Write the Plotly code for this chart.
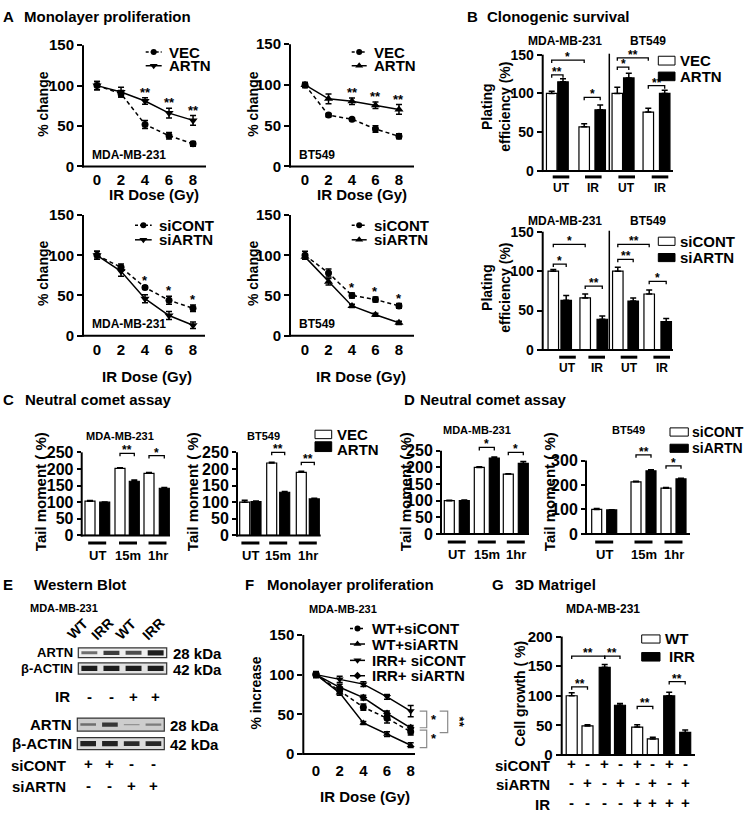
import plotly.graph_objects as go

W, H = 745, 819
FONT = "Liberation Sans"

# ------------------------------------------------------------------ DATA
dose = [0, 2, 4, 6, 8]

# A  Monolayer proliferation
a_mda_vec = [100, 90, 52, 38, 28]
a_mda_vec_err = [5, 4, 5, 4, 3]
a_mda_artn = [100, 92, 81, 66, 57]
a_mda_artn_err = [5, 6, 4, 6, 6]
a_mda_sig = ["", "", "**", "**", "**"]

a_bt_vec = [100, 63, 58, 46, 37]
a_bt_vec_err = [3, 2, 1, 4, 3]
a_bt_artn = [100, 83, 80, 75, 70]
a_bt_artn_err = [3, 6, 4, 4, 6]
a_bt_sig = ["", "", "**", "**", "**"]

a_mda_sicont = [100, 85, 60, 44, 34]
a_mda_sicont_err = [5, 4, 2, 5, 4]
a_mda_siartn = [100, 80, 46, 25, 13]
a_mda_siartn_err = [5, 6, 5, 5, 4]
a_mda_si_sig = ["", "", "*", "*", "*"]

a_bt_sicont = [100, 78, 50, 45, 37]
a_bt_sicont_err = [5, 5, 3, 3, 3]
a_bt_siartn = [98, 67, 37, 26, 16]
a_bt_siartn_err = [3, 4, 2, 2, 2]
a_bt_si_sig = ["", "", "*", "*", "*"]

# B  Clonogenic survival  (order: MDA UT, MDA IR, BT549 UT, BT549 IR)
b_cond = ["UT", "IR", "UT", "IR"]
b_vec = [100, 57, 100, 76]
b_vec_err = [3, 4, 8, 5]
b_artn = [115, 79, 120, 100]
b_artn_err = [4, 6, 6, 4]
b_top_sig = [(0, 1, 124, "**"), (0, 2, 143, "*"), (2, 3, 95, "*"),
             (4, 5, 134, "*"), (4, 6, 146, "**"), (6, 7, 110, "**")]
b_sicont = [100, 66, 100, 71]
b_sicont_err = [2, 5, 5, 5]
b_siartn = [63, 39, 62, 36]
b_siartn_err = [6, 4, 4, 4]
b_bot_sig = [(0, 1, 109, "*"), (0, 2, 134, "*"), (2, 3, 81, "**"),
             (4, 5, 115, "**"), (4, 6, 134, "**"), (6, 7, 87, "*")]

# C / D  Neutral comet assay
comet_time = ["UT", "15m", "1hr"]
c_mda_vec = [103, 202, 187]
c_mda_vec_err = [2, 2, 2]
c_mda_artn = [100, 163, 142]
c_mda_artn_err = [1, 4, 2]
c_mda_sig = [(2, 3, 247, "**"), (4, 5, 240, "*")]
c_bt_vec = [100, 218, 190]
c_bt_vec_err = [6, 2, 3]
c_bt_artn = [102, 130, 110]
c_bt_artn_err = [2, 2, 2]
c_bt_sig = [(2, 3, 250, "**"), (4, 5, 220, "**")]
d_mda_sicont = [100, 200, 180]
d_mda_sicont_err = [1, 2, 1]
d_mda_siartn = [100, 228, 212]
d_mda_siartn_err = [2, 3, 6]
d_mda_sig = [(2, 3, 260, "*"), (4, 5, 245, "*")]
d_bt_sicont = [100, 213, 187]
d_bt_sicont_err = [4, 2, 3]
d_bt_siartn = [98, 258, 225]
d_bt_siartn_err = [1, 4, 3]
d_bt_sig = [(2, 3, 323, "**"), (4, 5, 278, "*")]

# E  Western blot (relative band intensities per lane)
blot_lanes = ["WT", "IRR", "WT", "IRR"]
blot1_artn = [0.45, 0.75, 0.65, 0.95]
blot1_actin = [0.95, 0.95, 0.95, 0.95]
blot1_ir = ["-", "-", "+", "+"]
blot2_artn = [0.35, 0.75, 0.08, 0.25]
blot2_actin = [0.9, 0.9, 0.85, 0.88]
blot2_sicont = ["+", "+", "-", "-"]
blot2_siartn = ["-", "-", "+", "+"]

# F  Monolayer proliferation
f_wt_sicont = [100, 80, 59, 45, 28]
f_wt_sicont_err = [3, 4, 4, 6, 4]
f_wt_siartn = [100, 77, 39, 25, 11]
f_wt_siartn_err = [3, 3, 2, 3, 3]
f_irr_sicont = [100, 94, 88, 72, 54]
f_irr_sicont_err = [4, 4, 3, 3, 7]
f_irr_siartn = [100, 84, 71, 51, 33]
f_irr_siartn_err = [3, 4, 3, 3, 3]

# G  3D Matrigel
g_cell = ["WT", "WT", "IRR", "IRR", "WT", "WT", "IRR", "IRR"]
g_vals = [100, 49, 148, 84, 47, 27, 100, 38]
g_err = [5, 2, 5, 3, 4, 3, 6, 4]
g_sicont = ["+", "-", "+", "-", "+", "-", "+", "-"]
g_siartn = ["-", "+", "-", "+", "-", "+", "-", "+"]
g_ir = ["-", "-", "-", "-", "+", "+", "+", "+"]
g_sig = [(0, 1, 115, "**"), (0, 2, 167, "**"), (2, 3, 167, "**"),
         (4, 5, 82, "**"), (6, 7, 124, "**")]

# ------------------------------------------------------------------ helpers
fig = go.Figure()
shapes, anns = [], []
lay = {}
GEOM = {}


def xr(n):
    return "x" if n == 1 else f"x{n}"


def yr(n):
    return "y" if n == 1 else f"y{n}"


def P(px, py):
    return px / W, 1 - py / H


def bfont(size, color="black", family=FONT):
    return dict(family=family, size=size, color=color, weight="bold")


def txt(px, py, text, size=15, xanchor="center", yanchor="middle", angle=0, color="black"):
    x, y = P(px, py)
    anns.append(dict(x=x, y=y, xref="paper", yref="paper", text=text, showarrow=False,
                     xanchor=xanchor, yanchor=yanchor, textangle=angle, font=bfont(size, color)))


def pline(x0, y0, x1, y1, width=2, color="black"):
    a, b = P(x0, y0)
    c, d = P(x1, y1)
    shapes.append(dict(type="line", xref="paper", yref="paper", x0=a, y0=b, x1=c, y1=d,
                       line=dict(color=color, width=width)))


def prect(x0, y0, x1, y1, fill, lw=1, lc="black"):
    a, b = P(x0, y1)
    c, d = P(x1, y0)
    shapes.append(dict(type="rect", xref="paper", yref="paper", x0=a, y0=b, x1=c, y1=d,
                       fillcolor=fill, line=dict(color=lc, width=lw), layer="below"))


def axes(pl, pr, pt, pb, xrng, yrng, ext_r=0, ext_t=0, yticks=(), ysize=15,
         xticks=(), xsize=15, xstand=3, lines=True, ticklen=5, yfamily=FONT):
    n = len(GEOM) + 1
    sx = (xrng[1] - xrng[0]) / (pr - pl)
    sy = (yrng[1] - yrng[0]) / (pb - pt)
    xa = dict(domain=[pl / W, (pr + ext_r) / W], range=[xrng[0], xrng[1] + ext_r * sx],
              anchor=yr(n), showline=False, showgrid=False, zeroline=False)
    ya = dict(domain=[1 - pb / H, 1 - (pt - ext_t) / H], range=[yrng[0], yrng[1] + ext_t * sy],
              anchor=xr(n), showline=False, showgrid=False, zeroline=False)
    if len(xticks):
        xa.update(tickmode="array", tickvals=list(xticks), ticktext=[str(v) for v in xticks],
                  ticks="", ticklabelstandoff=xstand, tickfont=bfont(xsize))
    else:
        xa.update(showticklabels=False, ticks="")
    if len(yticks):
        ya.update(tickmode="array", tickvals=list(yticks), ticks="outside", ticklen=ticklen,
                  tickwidth=2, tickcolor="black", tickfont=bfont(ysize, family=yfamily))
    else:
        ya.update(showticklabels=False, ticks="")
    key = "" if n == 1 else str(n)
    lay["xaxis" + key] = xa
    lay["yaxis" + key] = ya
    if lines:
        pline(pl, pb + 1, pl, pt, 2)
        pline(pl - 1, pb, pr, pb, 2)
    GEOM[n] = dict(pl=pl, pb=pb, sx=sx, sy=sy, x0=xrng[0], y0=yrng[0])
    return n


def series(n, x, y, err, dash, symbol, msize=7):
    fig.add_trace(go.Scatter(x=x, y=y, xaxis=xr(n), yaxis=yr(n), mode="lines+markers",
                             line=dict(color="black", width=1.5, dash=dash),
                             marker=dict(symbol=symbol, size=msize, color="black"),
                             error_y=dict(type="data", array=err, color="black", thickness=1.5, width=3),
                             showlegend=False, cliponaxis=False))


def star(n, x, y, text, size=13):
    anns.append(dict(x=x, y=y, xref=xr(n), yref=yr(n), text=text, showarrow=False,
                     xanchor="center", yanchor="bottom", yshift=-5, font=bfont(size)))


def bars(n, xs, vals, errs, fill, width=10):
    fig.add_trace(go.Bar(x=xs, y=vals, width=width, xaxis=xr(n), yaxis=yr(n),
                         marker=dict(color=fill, line=dict(color="black", width=1.2)),
                         error_y=dict(type="data", array=errs, arrayminus=[0] * len(errs),
                                      symmetric=False, color="black", thickness=1.5, width=3),
                         showlegend=False))


def bracket(n, xa, xb, y, text, size=12, tick=3):
    h = tick * GEOM[n]["sy"]
    shapes.append(dict(type="path", xref=xr(n), yref=yr(n),
                       path=f"M {xa},{y - h} L {xa},{y} L {xb},{y} L {xb},{y - h}",
                       line=dict(color="black", width=1.3)))
    anns.append(dict(x=(xa + xb) / 2, y=y, xref=xr(n), yref=yr(n), text=text, showarrow=False,
                     xanchor="center", yanchor="bottom", yshift=-6, font=bfont(size)))


def overlay_line_legend(n, x0, x1, y, dash, symbol, label, msize=7, size=15):
    fig.add_trace(go.Scatter(x=[x0, x1], y=[y, y], xaxis=xr(n), yaxis=yr(n), mode="lines",
                             line=dict(color="black", width=1.5, dash=dash), showlegend=False))
    fig.add_trace(go.Scatter(x=[(x0 + x1) / 2], y=[y], xaxis=xr(n), yaxis=yr(n), mode="markers",
                             marker=dict(symbol=symbol, size=msize, color="black"), showlegend=False))
    txt(x1 + 5, y, label, size=size, xanchor="left")


def bar_legend(x0, x1, y0, y1, fill, label, tx, size=15, ty=None):
    prect(x0, y0, x1, y1, fill, lw=1, lc="black")
    txt(tx, (y0 + y1) / 2 if ty is None else ty, label, size=size, xanchor="left")


def px_of(n, x):
    g = GEOM[n]
    return g["pl"] + (x - g["x0"]) / g["sx"]


def group_lines(n, centers, half, py, labels, ly, size=12):
    for c, lab in zip(centers, labels):
        pline(px_of(n, c) - half, py, px_of(n, c) + half, py, 3)
        txt(px_of(n, c), ly, lab, size=size)


# overlay axis in pixel units (for legend samples)
OV = axes(0, W, 0, H, (0, W), (H, 0), lines=False)

# ------------------------------------------------------------------ panel A
txt(1, 8, "A", 15, xanchor="left")
txt(22, 8, "Monolayer proliferation", 15, xanchor="left")

A_specs = [
    (83, 206, 37, 161, (-1.17, 9.08), a_mda_vec, a_mda_vec_err, a_mda_artn, a_mda_artn_err, a_mda_sig,
     "triangle-down", "MDA-MB-231", 154, 189.3, 43, 97, ("VEC", "ARTN"), 145.7, 161.7, 44, 58),
    (290, 414, 36, 161, (-1.28, 9.28), a_bt_vec, a_bt_vec_err, a_bt_artn, a_bt_artn_err, a_bt_sig,
     "triangle-up", "BT549", 362, 189.3, 253, 97, ("VEC", "ARTN"), 351.7, 366.7, 44, 58),
    (83, 205, 210.7, 334, (-1.17, 9.0), a_mda_sicont, a_mda_sicont_err, a_mda_siartn, a_mda_siartn_err,
     a_mda_si_sig, "triangle-down", "MDA-MB-231", 147, 375.7, 43, 270, ("siCONT", "siARTN"), 135, 151.7, 221, 236),
    (290, 414, 210.7, 334, (-1.28, 9.28), a_bt_sicont, a_bt_sicont_err, a_bt_siartn, a_bt_siartn_err,
     a_bt_si_sig, "triangle-up", "BT549", 361, 375.7, 253, 270, ("siCONT", "siARTN"), 351.7, 366.7, 221, 236),
]
for (pl, pr, pt, pb, xrng, c1, e1, c2, e2, sig, sym2, cell, lx, ly, yx, yy, legs, gx0, gx1, gy1, gy2) in A_specs:
    n = axes(pl, pr, pt, pb, xrng, (0, 150), yticks=[0, 50, 100, 150], ysize=15,
             xticks=dose, xsize=15, xstand=3)
    series(n, dose, c1, e1, "4px,3px", "circle", 7)
    series(n, dose, c2, e2, "solid", sym2, 8)
    for i, s in enumerate(sig):
        if s:
            top = max(c1[i] + e1[i], c2[i] + e2[i])
            star(n, dose[i], top + 1, s)
    txt(pl + 7, pb - 12, cell, 12, xanchor="left")
    txt(lx, ly, "IR Dose (Gy)", 15)
    txt(yx, yy, "% change", 14, angle=-90)
    overlay_line_legend(OV, gx0, gx1, gy1, "3px,2px", "circle", legs[0], 6)
    overlay_line_legend(OV, gx0, gx1, gy2, "solid", sym2, legs[1], 7)

# ------------------------------------------------------------------ panel B
txt(465, 8, "B", 15, xanchor="left")
txt(485, 8, "Clonogenic survival", 15, xanchor="left")

b_top_pos = [9, 20.3, 41.5, 57.5, 74.6, 86.1, 105.6, 122]
b_bot_pos = [10.6, 23.5, 42.5, 59.6, 75.1, 90.5, 106.5, 123.5]
B_specs = [
    (46.7, 165.7, b_vec, b_vec_err, b_artn, b_artn_err, b_top_sig, b_top_pos,
     [18.3, 50.6, 84, 117.3], 171.7, 183, 33, 100, ("VEC", "ARTN"), (48.3, 57.3, 64.5, 73.3)),
    (227.7, 348.7, b_sicont, b_sicont_err, b_siartn, b_siartn_err, b_bot_sig, b_bot_pos,
     [24.8, 54, 86.3, 119], 356, 366.7, 216.7, 285, ("siCONT", "siARTN"), (233.3, 241.7, 250, 258.3)),
]
for (pt, pb, v1, e1, v2, e2, sig, pos, gl, gly, glab, ty, yy, legs, lgy) in B_specs:
    n = axes(542.7, 673, pt, pb, (0, 130.3), (0, 150), ext_t=4, yticks=[0, 50, 100, 150], ysize=14)
    bars(n, pos[0::2], v1, e1, "white", 10.5)
    bars(n, pos[1::2], v2, e2, "black", 10.5)
    for (i, j, y, s) in sig:
        bracket(n, pos[i], pos[j], y, s)
    pline(609.3, pt - 1, 609.3, pb, 1.5)
    group_lines(n, gl, 8.3, gly, b_cond, glab, 12)
    txt(565, ty, "MDA-MB-231", 12)
    txt(648, ty, "BT549", 12)
    txt(496, yy, "Plating<br>efficiency (%)", 14, angle=-90)
    bar_legend(658.3, 675, lgy[0], lgy[1], "white", legs[0], 678)
    bar_legend(658.3, 675, lgy[2], lgy[3], "black", legs[1], 678)

# ------------------------------------------------------------------ panels C & D
txt(1, 399, "C", 15, xanchor="left")
txt(23, 399, "Neutral comet assay", 15, xanchor="left")
txt(401.7, 399, "D", 15, xanchor="left")
txt(418.3, 399, "Neutral comet assay", 15, xanchor="left")

NARROW = "Liberation Sans Narrow, Arial Narrow, Liberation Sans"
CD_specs = [
    (81.7, 170, 453.3, 538.3, 250, [0, 50, 100, 150, 200, 250], c_mda_vec, c_mda_vec_err, c_mda_artn,
     c_mda_artn_err, c_mda_sig, [8.3, 23, 38.3, 52.6, 67.3, 82.6], [15.5, 46.3, 75.8], 546, 558.3,
     "MDA-MB-231", 120, 436.7, 40, 16, FONT),
    (237, 320.7, 453.3, 538.3, 250, [0, 50, 100, 150, 200, 250], c_bt_vec, c_bt_vec_err, c_bt_artn,
     c_bt_artn_err, c_bt_sig, [7.7, 19, 34.7, 47.7, 64.3, 77.3], [13.4, 41.2, 70.8], 546, 558.3,
     "BT549", 263, 436.7, 192, 16, FONT),
    (441, 529, 451.7, 536.7, 250, [0, 50, 100, 150, 200, 250], d_mda_sicont, d_mda_sicont_err, d_mda_siartn,
     d_mda_siartn_err, d_mda_sig, [8.3, 23.3, 38.3, 53.3, 67.3, 82.3], [15.8, 45.8, 74.8], 545, 558,
     "MDA-MB-231", 476.7, 430, 405, 16, NARROW),
    (586, 690, 461.7, 536.7, 300, [0, 100, 200, 300], d_bt_sicont, d_bt_sicont_err, d_bt_siartn,
     d_bt_siartn_err, d_bt_sig, [10.7, 25.7, 50, 65, 80, 95], [18.2, 57.5, 87.5], 545, 558,
     "BT549", 628.3, 430, 549, 16, NARROW),
]
for (pl, pr, pt, pb, ymax, yt, v1, e1, v2, e2, sig, pos, gl, gly, glab, title, tx, ty, ylx, ysz, yfam) in CD_specs:
    n = axes(pl, pr, pt, pb, (0, pr - pl), (0, ymax), ext_t=16, yticks=yt, ysize=ysz, ticklen=4,
             yfamily=yfam)
    bars(n, pos[0::2], v1, e1, "white", 10)
    bars(n, pos[1::2], v2, e2, "black", 10)
    for (i, j, y, s) in sig:
        bracket(n, pos[i], pos[j], y, s)
    group_lines(n, gl, 9, gly, comet_time, glab, 13)
    txt(tx, ty, title, 11)
    txt(ylx, 494, "Tail moment ( %)", 15, angle=-90)

bar_legend(315, 331.7, 430.7, 439.3, "white", "VEC", 335, ty=435)
bar_legend(315, 331.7, 442.5, 452.5, "black", "ARTN", 335, ty=450)
bar_legend(670, 688.3, 428.3, 436.7, "white", "siCONT", 690, size=14)
bar_legend(670, 688.3, 445, 453.3, "black", "siARTN", 690, size=14)

# ------------------------------------------------------------------ panel E
txt(1, 588, "E", 15, xanchor="left")
txt(31.7, 588, "Western Blot", 15, xanchor="left")
txt(64, 612, "MDA-MB-231", 11)

blot_boxes = [
    (78.3, 166.7, 653.3, 663.3, blot1_artn, "#efefef", "ARTN", "28 kDa", 13),
    (78.3, 166.7, 668.5, 680, blot1_actin, "#e2e2e2", "β-ACTIN", "42 kDa", 13),
    (77.3, 164.3, 725, 738.3, blot2_artn, "#cdcdcd", "ARTN", "28 kDa", 15),
    (77.3, 164.3, 745, 757.3, blot2_actin, "#dcdcdc", "β-ACTIN", "42 kDa", 15),
]
lane_x = [1, 2, 3, 4]
blot_axes = []
for (x0, x1, y0, y1, inten, bg, lab, kda, ls) in blot_boxes:
    n = axes(x0, x1, y0, y1, (0.5, 4.5), (0, 1), lines=False)
    blot_axes.append(n)
    prect(x0, y0, x1, y1, bg, lw=1.2, lc="#333333")
    for lx, v in zip(lane_x, inten):
        fig.add_trace(go.Scatter(x=[lx - 0.36, lx + 0.36], y=[0.5, 0.5], xaxis=xr(n), yaxis=yr(n),
                                 mode="lines", showlegend=False,
                                 line=dict(color=f"rgba(20,20,20,{0.25 + 0.75 * v:.2f})",
                                           width=1 + 4.5 * v)))
    txt(x0 - 3, (y0 + y1) / 2, lab, ls, xanchor="right")
    txt(x1 + 4, (y0 + y1) / 2 + 1, kda, 15, xanchor="left")

for lab, cx in zip(blot_lanes, [77.5, 102, 126, 153]):
    txt(cx, 651, lab, 14, yanchor="bottom", angle=-45)

nb1 = blot_axes[0]
nb2 = blot_axes[2]
txt(72, 703, "IR", 15, xanchor="right")
for lx, s in zip(lane_x, blot1_ir):
    txt(px_of(nb1, lx), 703, s, 15)
txt(68, 774, "siCONT", 15, xanchor="right")
txt(68, 795, "siARTN", 15, xanchor="right")
for lx, s1, s2 in zip(lane_x, blot2_sicont, blot2_siartn):
    txt(px_of(nb2, lx), 771, s1, 15)
    txt(px_of(nb2, lx), 794, s2, 15)

# ------------------------------------------------------------------ panel F
txt(243, 588, "F", 15, xanchor="left")
txt(265, 588, "Monolayer proliferation", 15, xanchor="left")
txt(343, 613, "MDA-MB-231", 11)
nF = axes(303.3, 415, 640, 761.7, (-1.073, 8.363), (0, 150), ext_r=50,
          yticks=[0, 50, 100, 150], ysize=15, xticks=dose, xsize=15, xstand=6)
series(nF, dose, f_wt_sicont, f_wt_sicont_err, "4px,3px", "circle", 7)
series(nF, dose, f_wt_siartn, f_wt_siartn_err, "solid", "triangle-up", 7)
series(nF, dose, f_irr_sicont, f_irr_sicont_err, "solid", "triangle-down", 7)
series(nF, dose, f_irr_siartn, f_irr_siartn_err, "solid", "diamond", 6)
txt(365, 805, "IR Dose (Gy)", 15)
txt(256, 700, "% increase", 14, angle=-90)
overlay_line_legend(OV, 350, 365, 633.3, "3px,2px", "circle", "WT+siCONT", 6)
overlay_line_legend(OV, 350, 365, 649.3, "solid", "triangle-up", "WT+siARTN", 7)
overlay_line_legend(OV, 350, 365, 666, "solid", "triangle-down", "IRR+ siCONT", 7)
overlay_line_legend(OV, 350, 365, 681.7, "solid", "diamond", "IRR+ siARTN", 6)

# side brackets comparing the 8 Gy end points
f_end = [f_irr_sicont[-1], f_irr_siartn[-1], f_wt_sicont[-1], f_wt_siartn[-1]]
gF = GEOM[nF]
bx1 = 8 + 16 * gF["sx"]
bx1a = 8 + 9 * gF["sx"]
bx2 = 8 + 37 * gF["sx"]
bx2a = 8 + 29 * gF["sx"]
gray = "#8a8a8a"
for (ya, yb, xa_, xb_, s) in [(f_end[0], f_end[1], bx1a, bx1, "*"),
                               (f_end[2] + 2, f_end[3] - 3, bx1a, bx1, "*"),
                               (f_end[0], f_end[2] - 1, bx2a, bx2, "**")]:
    shapes.append(dict(type="path", xref=xr(nF), yref=yr(nF),
                       path=f"M {xa_},{ya} L {xb_},{ya} L {xb_},{yb} L {xa_},{yb}",
                       line=dict(color=gray, width=1.2)))
    anns.append(dict(x=xb_, y=(ya + yb) / 2, xref=xr(nF), yref=yr(nF), text=s, showarrow=False,
                     xanchor="left", yanchor="middle", xshift=2, textangle=90 if s == "**" else 0,
                     font=bfont(13, "#000000")))

# ------------------------------------------------------------------ panel G
txt(490, 588, "G", 15, xanchor="left")
txt(513.3, 588, "3D Matrigel", 15, xanchor="left")
txt(603, 613, "MDA-MB-231", 12)
g_pos = [10, 25.8, 43, 58.3, 75.5, 91.1, 107.5, 123.5]
nG = axes(561.7, 695, 641.7, 762.7, (0, 133.3), (0, 200), ext_t=4,
          yticks=[0, 50, 100, 150, 200], ysize=15)
for cell, fill in [("WT", "white"), ("IRR", "black")]:
    idx = [i for i, c in enumerate(g_cell) if c == cell]
    bars(nG, [g_pos[i] for i in idx], [g_vals[i] for i in idx], [g_err[i] for i in idx], fill, 11)
for (i, j, y, s) in g_sig:
    bracket(nG, g_pos[i], g_pos[j], y, s)
txt(520, 700, "Cell growth ( %)", 14, angle=-90)
for lab, row, py in [("siCONT", g_sicont, 773.3), ("siARTN", g_siartn, 793.3), ("IR", g_ir, 813.3)]:
    txt(551.7, py, lab, 15, xanchor="right")
    for x, s in zip(g_pos, row):
        txt(px_of(nG, x), py - 2, s, 15)
bar_legend(641.7, 660, 640, 648.3, "white", "WT", 663)
bar_legend(641.7, 660, 658, 666.7, "black", "IRR", 667)

# ------------------------------------------------------------------ layout
fig.update_layout(width=W, height=H, margin=dict(l=0, r=0, t=0, b=0),
                  paper_bgcolor="white", plot_bgcolor="rgba(0,0,0,0)",
                  showlegend=False, barmode="overlay", shapes=shapes, annotations=anns,
                  font=dict(family=FONT, color="black"), **lay)
fig.write_html("out.html", config={"displayModeBar": False, "staticPlot": True},
               post_script="document.body.style.margin='0px';document.body.style.overflow='hidden';")
